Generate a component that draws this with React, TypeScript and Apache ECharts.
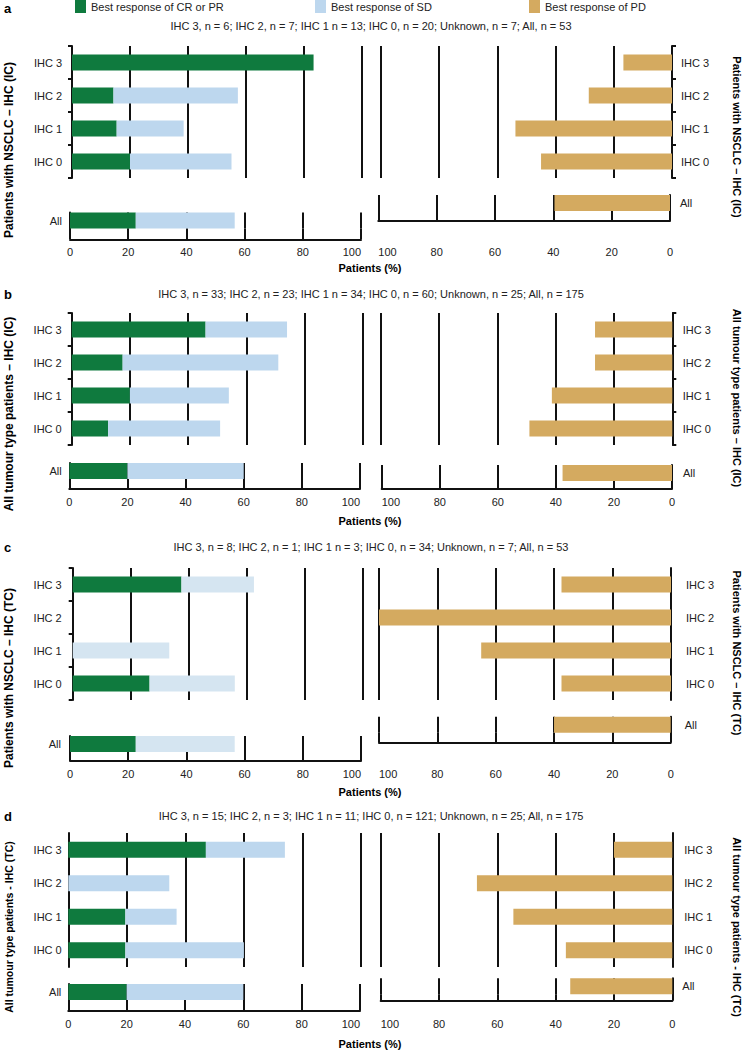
import React, { useEffect, useRef } from "react";
import * as echarts from "echarts";

// ---------- data ----------
const CR = "Best response of CR or PR";
const SD = "Best response of SD";
const PD = "Best response of PD";

const categories = ["IHC 3", "IHC 2", "IHC 1", "IHC 0"];
const allCategory = ["All"];

// panel a – NSCLC, IHC (IC)
const crA = [83.3, 14.3, 15.4, 20];
const sdA = [0, 42.9, 23.1, 35];
const pdA = [16.7, 28.6, 53.8, 45];
const crAllA = [22.6];
const sdAllA = [34];
const pdAllA = [39.6];

// panel b – all tumour types, IHC (IC)
const crB = [46, 17.5, 20, 12.5];
const sdB = [28, 53.5, 34, 38.5];
const pdB = [26.5, 26.5, 41.3, 49];
const crAllB = [20];
const sdAllB = [40];
const pdAllB = [37.7];

// panel c – NSCLC, IHC (TC)
const crC = [37.5, 0, 0, 26.5];
const sdC = [25, 0, 33.3, 29.4];
const pdC = [37.5, 100, 65, 37.5];
const crAllC = [22.6];
const sdAllC = [34];
const pdAllC = [40];

// panel d – all tumour types, IHC (TC)
const crD = [47, 0, 19.5, 19.5];
const sdD = [27, 34.5, 17.5, 40.5];
const pdD = [20, 67, 54.5, 36.5];
const crAllD = [20];
const sdAllD = [40];
const pdAllD = [35];

const subtitleA = "IHC 3, n = 6; IHC 2, n = 7; IHC 1 n = 13; IHC 0, n = 20; Unknown, n = 7; All, n = 53";
const subtitleB = "IHC 3, n = 33; IHC 2, n = 23; IHC 1 n = 34; IHC 0, n = 60; Unknown, n = 25; All, n = 175";
const subtitleC = "IHC 3, n = 8; IHC 2, n = 1; IHC 1 n = 3; IHC 0, n = 34; Unknown, n = 7; All, n = 53";
const subtitleD = "IHC 3, n = 15; IHC 2, n = 3; IHC 1 n = 11; IHC 0, n = 121; Unknown, n = 25; All, n = 175";

const titleA = "Patients with NSCLC – IHC (IC)";
const titleB = "All tumour type patients – IHC (IC)";
const titleC = "Patients with NSCLC – IHC (TC)";
const titleD = "All tumour type patients - IHC (TC)";
const xTitle = "Patients (%)";

// ---------- styles ----------
const FONT = "'Liberation Sans', Arial, Helvetica, sans-serif";
const GREEN = "#0f7a3e";
const BLUE = "#bdd7ee";
const BLUE_PALE = "#d5e5f1";
const TAN = "#d4aa60";
const INK = "#111111";
const TXT = "#222222";

// ---------- layout ----------
const layouts = [
  { letterY: 8, subY: 26, topY: 46, topH: 132, lx: 72, lw: 290, rx: 381, rw: 291,
    lTicks: true, rTicks: true, lMargin: 10, rMargin: 9, laMargin: 8, raMargin: 10,
    lAllTop: 212.5, lAllAxis: 239.3, rAllTop: 195, rAllAxis: 221, labelY: 252,
    blx: 70, blw: 291, brx: 378.3, brw: 291.7, xTitleY: 268,
    ltY: 150, ltSize: 12, rtY: 137, rtSize: 11 },
  { letterY: 294, subY: 294, topY: 313, topH: 132, lx: 71.7, lw: 291, rx: 380.7, rw: 291.6,
    lTicks: true, rTicks: true, lMargin: 10, rMargin: 10.5, laMargin: 7.6, raMargin: 11,
    lAllTop: 463, lAllAxis: 489, rAllTop: 465, rAllAxis: 489, labelY: 502,
    blx: 69.3, blw: 290.7, brx: 381.7, brw: 290.3, xTitleY: 521,
    ltY: 414, ltSize: 12, rtY: 398, rtSize: 11 },
  { letterY: 547, subY: 547, topY: 568, topH: 132, lx: 72.7, lw: 290, rx: 379, rw: 292,
    lTicks: true, rTicks: false, lMargin: 11, rMargin: 15, laMargin: 9, raMargin: 14,
    lAllTop: 736, lAllAxis: 761, rAllTop: 716.7, rAllAxis: 742.7, labelY: 774,
    blx: 70, blw: 291, brx: 379, brw: 291.7, xTitleY: 792,
    ltY: 678, ltSize: 12, rtY: 653, rtSize: 11 },
  { letterY: 816, subY: 816, topY: 833, topH: 134, lx: 68.3, lw: 292.7, rx: 380.7, rw: 291.6,
    lTicks: false, rTicks: false, lMargin: 6.6, rMargin: 12, laMargin: 7, raMargin: 10,
    lAllTop: 984, lAllAxis: 1010.7, rAllTop: 978.3, rAllAxis: 1000.7, labelY: 1024.3,
    blx: 68.3, blw: 291.7, brx: 380.7, brw: 291.6, xTitleY: 1044,
    ltY: 927, ltSize: 10.5, rtY: 927, rtSize: 11 },
];

const panels = [
  { letter: "a", subtitle: subtitleA, title: titleA, cr: crA, sd: sdA, pd: pdA, crAll: crAllA, sdAll: sdAllA, pdAll: pdAllA, sdColor: BLUE },
  { letter: "b", subtitle: subtitleB, title: titleB, cr: crB, sd: sdB, pd: pdB, crAll: crAllB, sdAll: sdAllB, pdAll: pdAllB, sdColor: BLUE },
  { letter: "c", subtitle: subtitleC, title: titleC, cr: crC, sd: sdC, pd: pdC, crAll: crAllC, sdAll: sdAllC, pdAll: pdAllC, sdColor: BLUE_PALE },
  { letter: "d", subtitle: subtitleD, title: titleD, cr: crD, sd: sdD, pd: pdD, crAll: crAllD, sdAll: sdAllD, pdAll: pdAllD, sdColor: BLUE },
];

const BAR_H = 16;

function buildOption() {
  const grid: any[] = [];
  const xAxis: any[] = [];
  const yAxis: any[] = [];
  const series: any[] = [];
  const graphic: any[] = [];

  const lineStyle = { color: INK, width: 2 };
  const labelStyle = { fontSize: 11, color: TXT, fontFamily: FONT };

  const topX = (gi: number, inverse: boolean) => ({
    type: "value", gridIndex: gi, min: 0, max: 100, interval: 20, inverse,
    axisLine: { show: false }, axisTick: { show: false }, axisLabel: { show: false },
    splitLine: { show: true, lineStyle },
  });
  const bottomX = (gi: number, inverse: boolean, offset: number, margin: number) => ({
    type: "value", gridIndex: gi, min: 0, max: 100, interval: 20, inverse, offset,
    axisLine: { show: true, lineStyle },
    axisTick: { show: offset > 0, inside: true, length: offset, lineStyle },
    axisLabel: { show: true, margin, alignMaxLabel: inverse ? "left" : "right", ...labelStyle },
    splitLine: { show: true, lineStyle },
  });
  const catY = (gi: number, data: string[], position: string, ticks: boolean, margin: number) => ({
    type: "category", gridIndex: gi, data, inverse: true, position,
    axisLine: { show: true, onZero: false, lineStyle },
    axisTick: { show: ticks, length: 4, lineStyle },
    axisLabel: { margin, ...labelStyle },
    splitLine: { show: false },
  });

  panels.forEach((p, i) => {
    const L = layouts[i];
    const g0 = i * 4;
    grid.push({ left: L.lx, top: L.topY, width: L.lw, height: L.topH });
    grid.push({ left: L.rx, top: L.topY, width: L.rw, height: L.topH });
    grid.push({ left: L.blx, top: L.lAllTop, width: L.blw, height: BAR_H });
    grid.push({ left: L.brx, top: L.rAllTop, width: L.brw, height: BAR_H });

    const lOff = L.lAllAxis - (L.lAllTop + BAR_H);
    const rOff = L.rAllAxis - (L.rAllTop + BAR_H);

    xAxis.push(topX(g0, false));
    xAxis.push(topX(g0 + 1, true));
    xAxis.push(bottomX(g0 + 2, false, lOff, L.labelY - L.lAllAxis - 5.5));
    xAxis.push(bottomX(g0 + 3, true, rOff, L.labelY - L.rAllAxis - 5.5));

    yAxis.push(catY(g0, categories, "left", L.lTicks, L.lMargin));
    yAxis.push(catY(g0 + 1, categories, "right", L.rTicks, L.rMargin));
    yAxis.push(catY(g0 + 2, allCategory, "left", false, L.laMargin));
    yAxis.push(catY(g0 + 3, allCategory, "right", false, L.raMargin));

    const bar = (name: string, gi: number, data: number[], color: string, stack?: string) => ({
      type: "bar", name, xAxisIndex: gi, yAxisIndex: gi, data, stack,
      barWidth: BAR_H, itemStyle: { color }, emphasis: { disabled: true }, silent: true,
    });
    series.push(bar(CR, g0, p.cr, GREEN, "L" + i));
    series.push(bar(SD, g0, p.sd, p.sdColor, "L" + i));
    series.push(bar(PD, g0 + 1, p.pd, TAN));
    series.push(bar(CR, g0 + 2, p.crAll, GREEN, "LA" + i));
    series.push(bar(SD, g0 + 2, p.sdAll, p.sdColor, "LA" + i));
    series.push(bar(PD, g0 + 3, p.pdAll, TAN));

    graphic.push({
      type: "text", x: 4, y: L.letterY,
      style: { text: p.letter, font: `bold 13px ${FONT}`, fill: "#000", textVerticalAlign: "middle", verticalAlign: "middle" },
    });
    graphic.push({
      type: "text", x: 371, y: L.subY,
      style: { text: p.subtitle, font: `11px ${FONT}`, fill: TXT, textAlign: "center", align: "center", textVerticalAlign: "middle", verticalAlign: "middle" },
    });
    graphic.push({
      type: "text", x: 370, y: L.xTitleY,
      style: { text: xTitle, font: `bold 11px ${FONT}`, fill: "#000", textAlign: "center", align: "center", textVerticalAlign: "middle", verticalAlign: "middle" },
    });
    graphic.push({
      type: "text", x: 9, y: L.ltY, rotation: Math.PI / 2,
      style: { text: p.title, font: `bold ${L.ltSize}px ${FONT}`, fill: "#000", textAlign: "center", align: "center", textVerticalAlign: "middle", verticalAlign: "middle" },
    });
    graphic.push({
      type: "text", x: 737, y: L.rtY, rotation: -Math.PI / 2,
      style: { text: p.title, font: `bold ${L.rtSize}px ${FONT}`, fill: "#000", textAlign: "center", align: "center", textVerticalAlign: "middle", verticalAlign: "middle" },
    });
  });

  const legendBase = {
    top: 0, padding: 0, itemWidth: 11, itemHeight: 13, icon: "rect",
    selectedMode: false, textStyle: { fontSize: 11, color: TXT, fontFamily: FONT },
  };

  return {
    animation: false,
    backgroundColor: "#ffffff",
    textStyle: { fontFamily: FONT },
    legend: [
      { ...legendBase, left: 75, data: [CR] },
      { ...legendBase, left: 315, data: [SD] },
      { ...legendBase, left: 529, data: [PD] },
    ],
    grid, xAxis, yAxis, series, graphic,
  };
}

export default function App() {
  const ref = useRef<HTMLDivElement>(null);
  useEffect(() => {
    if (!ref.current) return;
    const chart = echarts.init(ref.current, undefined, { renderer: "svg" });
    chart.setOption(buildOption() as any);
    return () => chart.dispose();
  }, []);
  return (
    <div
      ref={ref}
      style={{ position: "absolute", left: 0, top: 0, width: 742, height: 1050, background: "#fff" }}
    />
  );
}
